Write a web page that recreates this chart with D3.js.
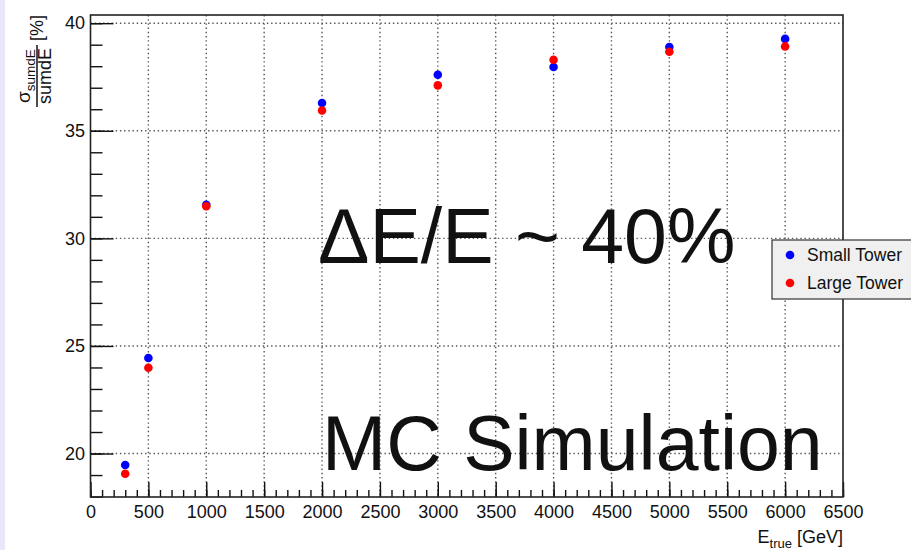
<!DOCTYPE html>
<html>
<head>
<meta charset="utf-8">
<script src="https://cdn.jsdelivr.net/npm/d3@7/dist/d3.min.js"></script>
<style>
  html, body { margin: 0; padding: 0; background: #fff; }
  svg { display: block; }
  text { font-family: "Liberation Sans", Arial, Helvetica, sans-serif; fill: #111; }
</style>
</head>
<body>
<svg id="chart" width="911" height="550"></svg>
<script>
// Beam energies (GeV) and relative resolution sigma/sumdE (%) for each tower size
const energies = [300, 500, 1000, 2000, 3000, 4000, 5000, 6000];
const smallTower = [19.47, 24.44, 31.56, 36.29, 37.60, 37.96, 38.89, 39.27];
const largeTower = [19.06, 23.99, 31.49, 35.94, 37.11, 38.30, 38.67, 38.92];

const seriesNames = ["Small Tower", "Large Tower"];
const seriesColors = ["#0000ff", "#ff0000"];

const xMajorTicks = d3.range(0, 6501, 500);
const xMinorTicks = d3.range(0, 6501, 100);
const yMajorTicks = [20, 25, 30, 35, 40];
const yMinorTicks = d3.range(18, 41, 1);

const svg = d3.select("#chart");
const W = 911, H = 550;
const frame = { left: 90.5, right: 843, top: 15, bottom: 497 };

const x = d3.scaleLinear().domain([0, 6500]).range([frame.left, frame.right]);
const y = d3.scaleLinear().domain([17.98, 40.38]).range([frame.bottom, frame.top]);

// page background and the thin left margin strip
svg.append("rect").attr("width", W).attr("height", H).attr("fill", "#fff");
svg.append("rect").attr("x", 0).attr("y", 0).attr("width", 5).attr("height", H).attr("fill", "#ece6fa");

// dotted grid on major ticks
const grid = svg.append("g")
  .attr("stroke", "#555").attr("stroke-width", 1.4)
  .attr("stroke-dasharray", "1.4 2.8").attr("fill", "none");
grid.selectAll("line.gx").data(xMajorTicks.filter(d => d > 0 && d < 6500)).join("line")
  .attr("class", "gx")
  .attr("x1", d => x(d)).attr("x2", d => x(d))
  .attr("y1", frame.top).attr("y2", frame.bottom);
grid.selectAll("line.gy").data(yMajorTicks).join("line")
  .attr("class", "gy")
  .attr("x1", frame.left).attr("x2", frame.right)
  .attr("y1", d => y(d)).attr("y2", d => y(d));

// x axis: major ticks with labels, minor ticks pointing into the frame
const xAxis = d3.axisBottom(x).tickValues(xMajorTicks).tickFormat(d3.format("d"))
  .tickSizeInner(-15).tickSizeOuter(0).tickPadding(8.5);
const gx = svg.append("g").attr("transform", `translate(0,${frame.bottom})`).call(xAxis);
gx.select(".domain").remove();
gx.selectAll("line").attr("stroke", "#111").attr("stroke-width", 1.4);
gx.selectAll("text").style("font-size", "18px").attr("fill", "#111");

const xAxisMinor = d3.axisBottom(x).tickValues(xMinorTicks).tickFormat("")
  .tickSizeInner(-7).tickSizeOuter(0);
const gxm = svg.append("g").attr("transform", `translate(0,${frame.bottom})`).call(xAxisMinor);
gxm.select(".domain").remove();
gxm.selectAll("line").attr("stroke", "#111").attr("stroke-width", 1.4);

// y axis: major and minor ticks
const yAxis = d3.axisLeft(y).tickValues(yMajorTicks).tickFormat(d3.format("d"))
  .tickSizeInner(-23).tickSizeOuter(0).tickPadding(5.5);
const gy = svg.append("g").attr("transform", `translate(${frame.left},0)`).call(yAxis);
gy.select(".domain").remove();
gy.selectAll("line").attr("stroke", "#111").attr("stroke-width", 1.4);
gy.selectAll("text").style("font-size", "18px").attr("fill", "#111");

const yAxisMinor = d3.axisLeft(y).tickValues(yMinorTicks).tickFormat("")
  .tickSizeInner(-12).tickSizeOuter(0);
const gym = svg.append("g").attr("transform", `translate(${frame.left},0)`).call(yAxisMinor);
gym.select(".domain").remove();
gym.selectAll("line").attr("stroke", "#111").attr("stroke-width", 1.4);

// frame
svg.append("rect")
  .attr("x", frame.left).attr("y", frame.top)
  .attr("width", frame.right - frame.left).attr("height", frame.bottom - frame.top)
  .attr("fill", "none").attr("stroke", "#222").attr("stroke-width", 1.6);

// data points
const series = [smallTower, largeTower];
series.forEach((vals, i) => {
  svg.append("g").selectAll("circle")
    .data(energies.map((e, k) => ({ e, v: vals[k] })))
    .join("circle")
    .attr("cx", d => x(d.e)).attr("cy", d => y(d.v))
    .attr("r", 4.3).attr("fill", seriesColors[i]);
});

// annotations
svg.append("text").attr("x", 318).attr("y", 262.5)
  .style("font-size", "77px").attr("fill", "#000").text("ΔE/E ~ 40%");
svg.append("text").attr("x", 322).attr("y", 470)
  .style("font-size", "77px").attr("fill", "#000").text("MC Simulation");

// x axis title
const xt = svg.append("text").attr("x", frame.right).attr("y", 543)
  .attr("text-anchor", "end").style("font-size", "18px");
xt.append("tspan").text("E");
xt.append("tspan").attr("dy", 5).style("font-size", "13px").text("true");
xt.append("tspan").attr("dy", -5).text(" [GeV]");

// y axis title: fraction sigma_sumdE / sumdE followed by [%], rotated
const yt = svg.append("g");
const fracCenter = 76;
const num = yt.append("text")
  .attr("transform", `translate(30,${fracCenter}) rotate(-90)`)
  .attr("text-anchor", "middle").style("font-size", "19px");
num.append("tspan").text("σ");
num.append("tspan").attr("dy", 5).style("font-size", "13.5px").text("sumdE");
yt.append("line")
  .attr("x1", 37).attr("x2", 37).attr("y1", 45).attr("y2", 107)
  .attr("stroke", "#111").attr("stroke-width", 1.5);
yt.append("text")
  .attr("transform", `translate(50.5,${fracCenter}) rotate(-90)`)
  .attr("text-anchor", "middle").style("font-size", "18px").text("sumdE");
yt.append("text")
  .attr("transform", `translate(42.5,15) rotate(-90)`)
  .attr("text-anchor", "end").style("font-size", "18px").text("[%]");

// legend
const lg = svg.append("g");
lg.append("rect").attr("x", 772).attr("y", 240).attr("width", 160).attr("height", 59)
  .attr("fill", "#f0f0f0").attr("stroke", "#333").attr("stroke-width", 1.2);
seriesNames.forEach((name, i) => {
  const cy = 255 + i * 28;
  lg.append("circle").attr("cx", 790).attr("cy", cy).attr("r", 4.3).attr("fill", seriesColors[i]);
  lg.append("text").attr("x", 807).attr("y", cy + 6)
    .style("font-size", "17.5px").text(name);
});
</script>
</body>
</html>
